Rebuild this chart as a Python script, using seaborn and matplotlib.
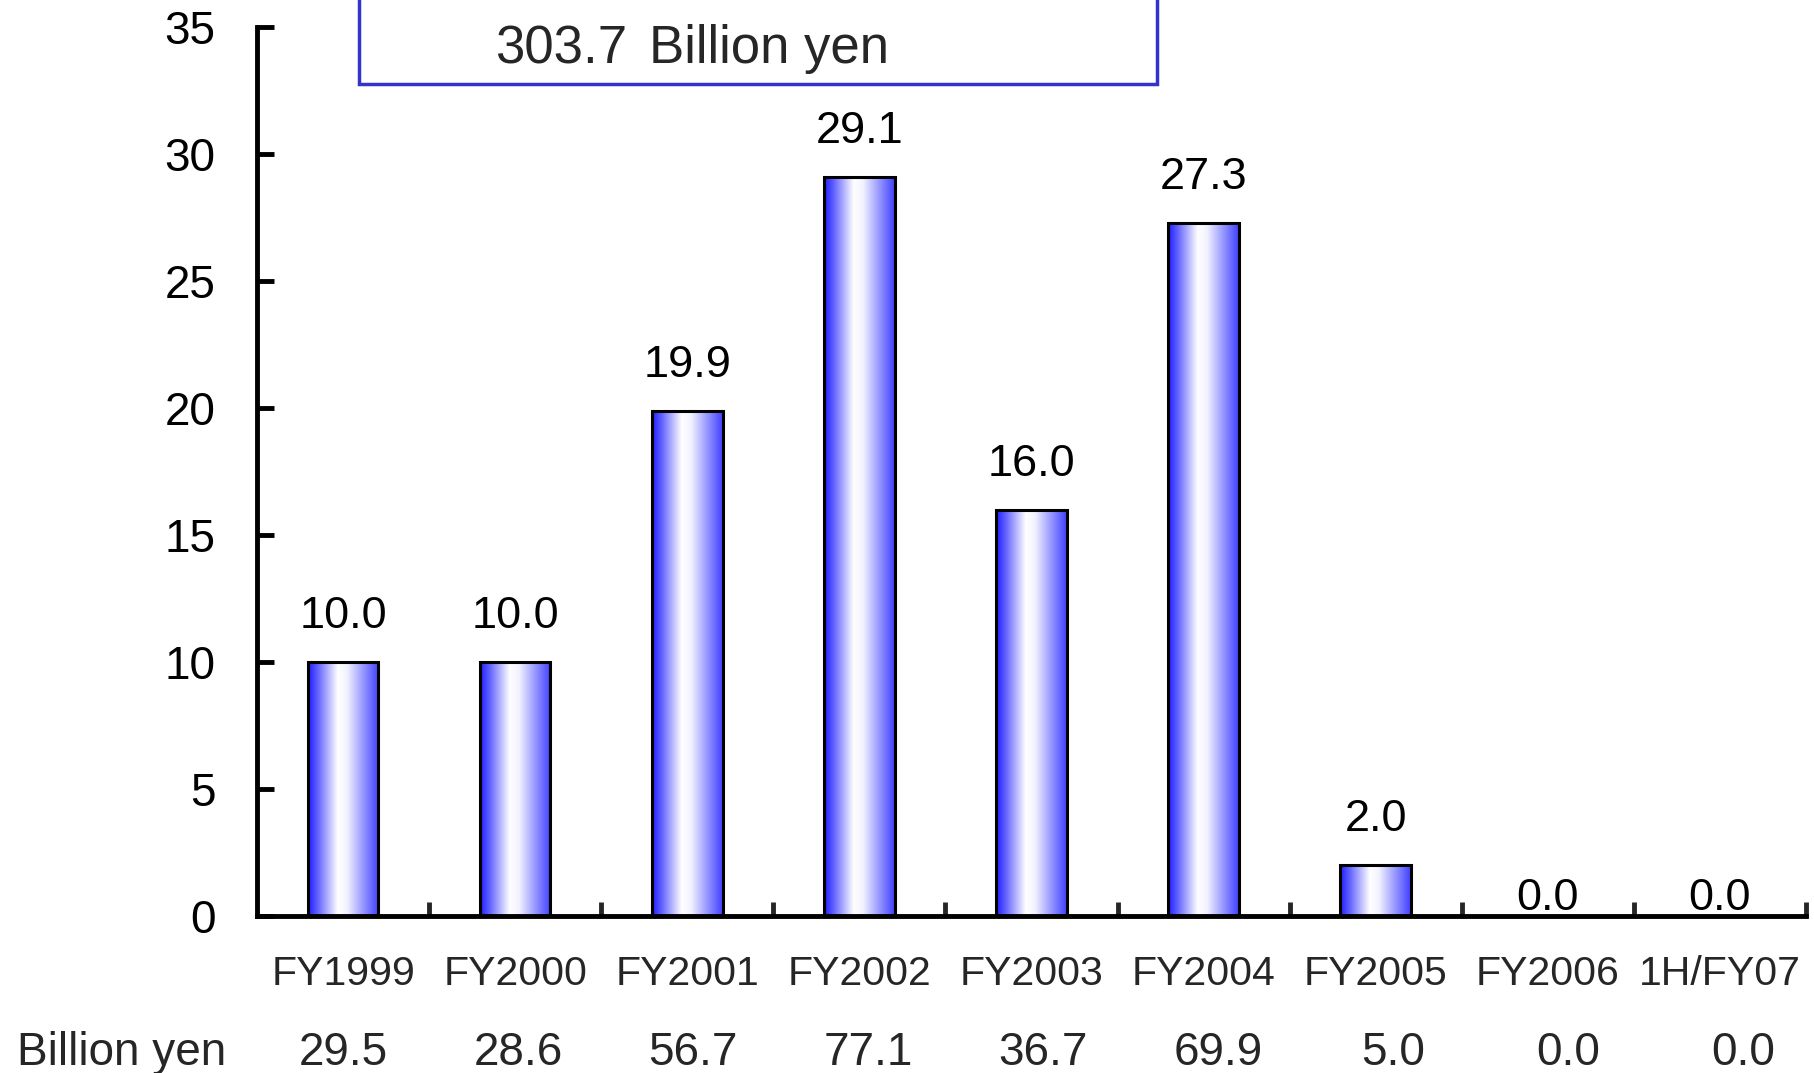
import numpy as np
import pandas as pd
import matplotlib
matplotlib.use("Agg")
import matplotlib.pyplot as plt
from matplotlib.colors import LinearSegmentedColormap
from matplotlib.patches import Rectangle
from matplotlib.transforms import blended_transform_factory
import seaborn as sns

# Data
categories = ["FY1999", "FY2000", "FY2001", "FY2002", "FY2003",
              "FY2004", "FY2005", "FY2006", "1H/FY07"]
values = [10.0, 10.0, 19.9, 29.1, 16.0, 27.3, 2.0, 0.0, 0.0]
billion_yen = [29.5, 28.6, 56.7, 77.1, 36.7, 69.9, 5.0, 0.0, 0.0]
total_value = "303.7"
total_unit = "Billion yen"
row_label = "Billion yen"
y_ticks = [0, 5, 10, 15, 20, 25, 30, 35]

sns.set_style("ticks")
plt.rcParams["font.family"] = ["Liberation Sans", "DejaVu Sans"]

fig = plt.figure(figsize=(18.14, 10.73), dpi=100)
ax = fig.add_axes([0.1417, 0.1463, 0.8539, 0.8285])

df = pd.DataFrame({"category": categories, "value": values})
sns.barplot(data=df, x="category", y="value", ax=ax, width=0.41,
            color="white", edgecolor="black", linewidth=2.2, zorder=3)

# Cylinder-like horizontal gradient inside each bar
cmap = LinearSegmentedColormap.from_list(
    "bluecyl",
    [(0.0, (0.12, 0.12, 1.0)),
     (0.12, (0.35, 0.35, 1.0)),
     (0.42, (1.0, 1.0, 1.0)),
     (0.55, (0.95, 0.95, 1.0)),
     (1.0, (0.25, 0.25, 1.0))])
grad = np.linspace(0, 1, 256).reshape(1, -1)
for patch in ax.patches:
    h = patch.get_height()
    if h <= 0:
        patch.set_visible(False)
        continue
    x0 = patch.get_x()
    w = patch.get_width()
    y0 = patch.get_y()
    im = ax.imshow(grad, cmap=cmap, extent=[x0, x0 + w, y0, y0 + h],
                   aspect="auto", interpolation="bicubic", zorder=2)
    im.set_clip_path(patch)
    patch.set_facecolor("none")

ax.set_xlim(-0.5, len(categories) - 0.5)
ax.set_ylim(0, 35)
ax.set_yticks(y_ticks)
ax.set_xlabel("")
ax.set_ylabel("")

# Axis styling
for side in ["top", "right"]:
    ax.spines[side].set_visible(False)
for side in ["left", "bottom"]:
    ax.spines[side].set_linewidth(3.5)
    ax.spines[side].set_color("black")
ax.tick_params(axis="y", direction="in", length=12, width=3.5,
               labelsize=33, pad=30, colors="black")
ax.tick_params(axis="x", which="major", length=0, labelsize=29.5, pad=28)
ax.set_xticks(np.arange(len(categories)) + 0.5, minor=True)
ax.tick_params(axis="x", which="minor", direction="in", length=10, width=3.5)

# Value labels above bars
for i, v in enumerate(values):
    off = 18 if v > 0 else -2
    ax.annotate(f"{v:.1f}", xy=(i, v), xytext=(0, off),
                textcoords="offset points", ha="center", va="bottom",
                fontsize=32.5, color="black", annotation_clip=False)

# Bottom data row
trans = blended_transform_factory(ax.transData, fig.transFigure)
row_y = 1 - 1053 / 1073
fig.text(17 / 1814, row_y, row_label, ha="left", va="center", fontsize=33)
for i, b in enumerate(billion_yen):
    ax.text(i * 1.017, row_y, f"{b:.1f}", transform=trans,
            ha="center", va="center", fontsize=33)

# Total box at top
box = Rectangle((359 / 1814, 1 - 84 / 1073), (1157 - 359) / 1814, 0.2,
                transform=fig.transFigure, facecolor="white",
                edgecolor="#3333cc", linewidth=2.5, zorder=5)
fig.patches.append(box)
box_y = 1 - 49 / 1073
fig.text(495 / 1814, box_y, total_value, ha="left", va="center",
         fontsize=38, zorder=6)
fig.text(649 / 1814, box_y, total_unit, ha="left", va="center",
         fontsize=38, zorder=6)

fig.savefig("out.png", dpi=100)
